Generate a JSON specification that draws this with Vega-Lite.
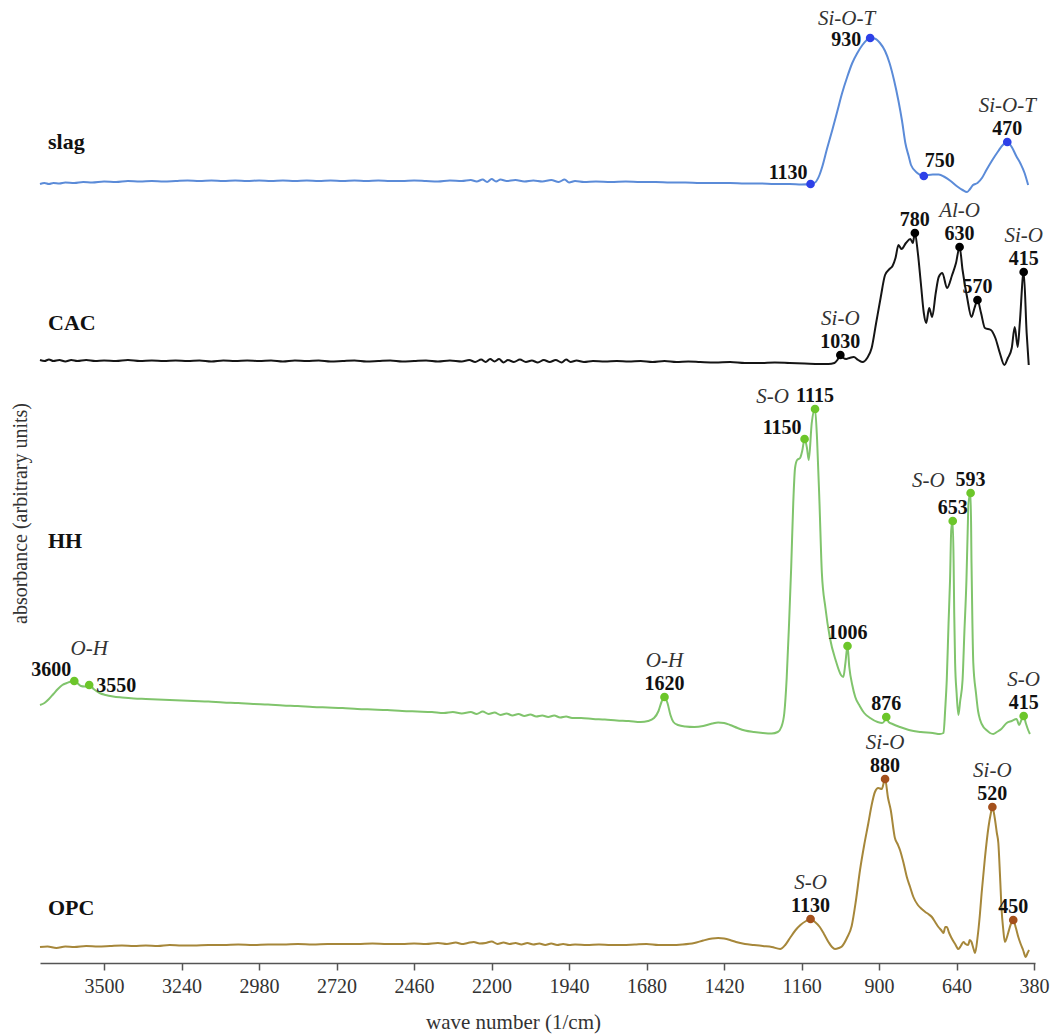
{
  "$schema": "https://vega.github.io/schema/vega-lite/v6.json",
  "width": 995,
  "height": 963,
  "autosize": "none",
  "padding": {"left": 40, "top": 0, "right": 19, "bottom": 72},
  "background": "white",
  "config": {"view": {"stroke": null}, "font": "Liberation Serif"},
  "datasets": {
    "slag": [
      {"wn":3715,"abs":7.79},{"wn":3700,"abs":7.80},{"wn":3685,"abs":7.79},{"wn":3670,"abs":7.80},{"wn":3650,"abs":7.795},{"wn":3630,"abs":7.805},{"wn":3600,"abs":7.80},{"wn":3570,"abs":7.81},{"wn":3540,"abs":7.805},{"wn":3500,"abs":7.815},{"wn":3460,"abs":7.81},{"wn":3420,"abs":7.82},{"wn":3380,"abs":7.815},{"wn":3340,"abs":7.82},{"wn":3300,"abs":7.815},{"wn":3260,"abs":7.82},{"wn":3220,"abs":7.825},{"wn":3180,"abs":7.82},{"wn":3140,"abs":7.825},{"wn":3100,"abs":7.82},{"wn":3060,"abs":7.825},{"wn":3020,"abs":7.82},{"wn":2980,"abs":7.825},{"wn":2940,"abs":7.82},{"wn":2900,"abs":7.825},{"wn":2860,"abs":7.82},{"wn":2820,"abs":7.825},{"wn":2780,"abs":7.82},{"wn":2740,"abs":7.825},{"wn":2700,"abs":7.82},{"wn":2660,"abs":7.825},{"wn":2620,"abs":7.82},{"wn":2580,"abs":7.825},{"wn":2540,"abs":7.82},{"wn":2500,"abs":7.82},{"wn":2460,"abs":7.825},{"wn":2420,"abs":7.82},{"wn":2380,"abs":7.815},{"wn":2340,"abs":7.825},{"wn":2300,"abs":7.82},{"wn":2270,"abs":7.83},{"wn":2250,"abs":7.815},{"wn":2230,"abs":7.835},{"wn":2215,"abs":7.81},{"wn":2200,"abs":7.84},{"wn":2185,"abs":7.815},{"wn":2170,"abs":7.835},{"wn":2150,"abs":7.82},{"wn":2120,"abs":7.83},{"wn":2090,"abs":7.815},{"wn":2060,"abs":7.825},{"wn":2030,"abs":7.815},{"wn":2000,"abs":7.83},{"wn":1975,"abs":7.81},{"wn":1955,"abs":7.835},{"wn":1940,"abs":7.805},{"wn":1920,"abs":7.82},{"wn":1890,"abs":7.81},{"wn":1850,"abs":7.815},{"wn":1800,"abs":7.81},{"wn":1750,"abs":7.815},{"wn":1700,"abs":7.81},{"wn":1650,"abs":7.81},{"wn":1600,"abs":7.805},{"wn":1550,"abs":7.805},{"wn":1500,"abs":7.80},{"wn":1450,"abs":7.80},{"wn":1400,"abs":7.80},{"wn":1350,"abs":7.795},{"wn":1300,"abs":7.795},{"wn":1250,"abs":7.79},{"wn":1200,"abs":7.79},{"wn":1160,"abs":7.785},
      {"wn":1130,"abs":7.79},{"wn":1115,"abs":7.805},{"wn":1100,"abs":7.88},{"wn":1091,"abs":7.96},{"wn":1075,"abs":8.14},{"wn":1057,"abs":8.33},{"wn":1040,"abs":8.52},{"wn":1024,"abs":8.70},{"wn":1007,"abs":8.86},{"wn":990,"abs":9.00},{"wn":973,"abs":9.10},{"wn":956,"abs":9.18},{"wn":943,"abs":9.225},{"wn":930,"abs":9.25},{"wn":915,"abs":9.245},{"wn":897,"abs":9.20},{"wn":880,"abs":9.12},{"wn":865,"abs":9.00},{"wn":850,"abs":8.83},{"wn":835,"abs":8.62},{"wn":823,"abs":8.42},{"wn":812,"abs":8.20},{"wn":800,"abs":8.06},{"wn":793,"abs":7.98},{"wn":772,"abs":7.90},{"wn":750,"abs":7.87},{"wn":735,"abs":7.88},{"wn":720,"abs":7.885},{"wn":700,"abs":7.885},{"wn":680,"abs":7.86},{"wn":660,"abs":7.82},{"wn":640,"abs":7.77},{"wn":620,"abs":7.73},{"wn":605,"abs":7.71},{"wn":595,"abs":7.74},{"wn":585,"abs":7.78},{"wn":570,"abs":7.80},{"wn":555,"abs":7.85},{"wn":540,"abs":7.93},{"wn":520,"abs":8.03},{"wn":500,"abs":8.12},{"wn":485,"abs":8.18},{"wn":470,"abs":8.21},{"wn":455,"abs":8.16},{"wn":440,"abs":8.07},{"wn":425,"abs":7.99},{"wn":412,"abs":7.90},{"wn":400,"abs":7.78}
    ],
    "CAC": [
      {"wn":3715,"abs":6.03},{"wn":3700,"abs":6.02},{"wn":3685,"abs":6.035},{"wn":3670,"abs":6.02},{"wn":3650,"abs":6.03},{"wn":3630,"abs":6.015},{"wn":3610,"abs":6.03},{"wn":3590,"abs":6.02},{"wn":3560,"abs":6.03},{"wn":3530,"abs":6.02},{"wn":3500,"abs":6.025},{"wn":3460,"abs":6.02},{"wn":3420,"abs":6.03},{"wn":3380,"abs":6.02},{"wn":3340,"abs":6.025},{"wn":3300,"abs":6.02},{"wn":3260,"abs":6.025},{"wn":3220,"abs":6.02},{"wn":3180,"abs":6.025},{"wn":3140,"abs":6.015},{"wn":3100,"abs":6.025},{"wn":3060,"abs":6.02},{"wn":3020,"abs":6.025},{"wn":2980,"abs":6.02},{"wn":2940,"abs":6.025},{"wn":2900,"abs":6.015},{"wn":2860,"abs":6.025},{"wn":2820,"abs":6.02},{"wn":2780,"abs":6.025},{"wn":2740,"abs":6.015},{"wn":2700,"abs":6.02},{"wn":2660,"abs":6.025},{"wn":2620,"abs":6.015},{"wn":2580,"abs":6.02},{"wn":2540,"abs":6.025},{"wn":2500,"abs":6.015},{"wn":2460,"abs":6.02},{"wn":2420,"abs":6.025},{"wn":2380,"abs":6.015},{"wn":2340,"abs":6.025},{"wn":2300,"abs":6.015},{"wn":2275,"abs":6.03},{"wn":2255,"abs":6.01},{"wn":2235,"abs":6.035},{"wn":2220,"abs":6.01},{"wn":2205,"abs":6.04},{"wn":2190,"abs":6.015},{"wn":2175,"abs":6.04},{"wn":2160,"abs":6.005},{"wn":2145,"abs":6.03},{"wn":2125,"abs":6.01},{"wn":2105,"abs":6.035},{"wn":2085,"abs":6.01},{"wn":2065,"abs":6.025},{"wn":2045,"abs":6.005},{"wn":2025,"abs":6.03},{"wn":2005,"abs":6.01},{"wn":1985,"abs":6.03},{"wn":1965,"abs":6.005},{"wn":1950,"abs":6.035},{"wn":1935,"abs":6.01},{"wn":1915,"abs":6.025},{"wn":1890,"abs":6.01},{"wn":1860,"abs":6.02},{"wn":1820,"abs":6.015},{"wn":1780,"abs":6.02},{"wn":1740,"abs":6.015},{"wn":1700,"abs":6.02},{"wn":1660,"abs":6.01},{"wn":1620,"abs":6.02},{"wn":1580,"abs":6.01},{"wn":1540,"abs":6.015},{"wn":1500,"abs":6.01},{"wn":1450,"abs":6.005},{"wn":1400,"abs":6.01},{"wn":1350,"abs":6.0},{"wn":1300,"abs":6.0},{"wn":1250,"abs":6.005},{"wn":1200,"abs":6.0},{"wn":1150,"abs":5.995},{"wn":1100,"abs":5.99},{"wn":1070,"abs":5.99},{"wn":1050,"abs":6.00},
      {"wn":1040,"abs":6.03},{"wn":1030,"abs":6.08},{"wn":1020,"abs":6.05},{"wn":1010,"abs":6.04},{"wn":1000,"abs":6.05},{"wn":985,"abs":6.06},{"wn":970,"abs":6.03},{"wn":955,"abs":6.01},{"wn":940,"abs":6.05},{"wn":925,"abs":6.15},{"wn":910,"abs":6.40},{"wn":895,"abs":6.65},{"wn":880,"abs":6.88},{"wn":865,"abs":6.94},{"wn":855,"abs":6.97},{"wn":845,"abs":7.05},{"wn":835,"abs":7.18},{"wn":825,"abs":7.14},{"wn":810,"abs":7.20},{"wn":795,"abs":7.24},{"wn":787,"abs":7.20},{"wn":780,"abs":7.30},{"wn":770,"abs":7.10},{"wn":760,"abs":6.80},{"wn":750,"abs":6.50},{"wn":742,"abs":6.40},{"wn":732,"abs":6.55},{"wn":722,"abs":6.46},{"wn":710,"abs":6.70},{"wn":700,"abs":6.86},{"wn":688,"abs":6.90},{"wn":672,"abs":6.75},{"wn":655,"abs":6.88},{"wn":642,"abs":7.00},{"wn":630,"abs":7.16},{"wn":620,"abs":6.93},{"wn":605,"abs":6.66},{"wn":590,"abs":6.46},{"wn":580,"abs":6.55},{"wn":570,"abs":6.63},{"wn":558,"abs":6.50},{"wn":545,"abs":6.35},{"wn":525,"abs":6.33},{"wn":510,"abs":6.25},{"wn":495,"abs":6.10},{"wn":480,"abs":5.98},{"wn":468,"abs":6.05},{"wn":455,"abs":6.15},{"wn":445,"abs":6.36},{"wn":435,"abs":6.16},{"wn":428,"abs":6.40},{"wn":415,"abs":6.91},{"wn":405,"abs":6.30},{"wn":398,"abs":5.98}
    ],
    "HH": [
      {"wn":3715,"abs":2.58},{"wn":3700,"abs":2.60},{"wn":3685,"abs":2.64},{"wn":3670,"abs":2.69},{"wn":3655,"abs":2.74},{"wn":3640,"abs":2.78},{"wn":3625,"abs":2.80},{"wn":3612,"abs":2.815},{"wn":3600,"abs":2.82},{"wn":3590,"abs":2.80},{"wn":3578,"abs":2.77},{"wn":3565,"abs":2.765},{"wn":3550,"abs":2.78},{"wn":3535,"abs":2.74},{"wn":3515,"abs":2.70},{"wn":3495,"abs":2.68},{"wn":3470,"abs":2.665},{"wn":3440,"abs":2.655},{"wn":3400,"abs":2.645},{"wn":3360,"abs":2.64},{"wn":3320,"abs":2.635},{"wn":3280,"abs":2.63},{"wn":3240,"abs":2.625},{"wn":3200,"abs":2.62},{"wn":3150,"abs":2.615},{"wn":3100,"abs":2.605},{"wn":3050,"abs":2.60},{"wn":3000,"abs":2.59},{"wn":2950,"abs":2.585},{"wn":2900,"abs":2.575},{"wn":2850,"abs":2.57},{"wn":2800,"abs":2.56},{"wn":2750,"abs":2.555},{"wn":2700,"abs":2.55},{"wn":2650,"abs":2.54},{"wn":2600,"abs":2.535},{"wn":2550,"abs":2.53},{"wn":2500,"abs":2.52},{"wn":2450,"abs":2.515},{"wn":2400,"abs":2.51},{"wn":2360,"abs":2.50},{"wn":2330,"abs":2.51},{"wn":2300,"abs":2.495},{"wn":2270,"abs":2.51},{"wn":2250,"abs":2.49},{"wn":2230,"abs":2.515},{"wn":2210,"abs":2.49},{"wn":2190,"abs":2.505},{"wn":2170,"abs":2.48},{"wn":2150,"abs":2.495},{"wn":2130,"abs":2.475},{"wn":2110,"abs":2.49},{"wn":2090,"abs":2.47},{"wn":2070,"abs":2.485},{"wn":2050,"abs":2.465},{"wn":2030,"abs":2.475},{"wn":2010,"abs":2.46},{"wn":1990,"abs":2.475},{"wn":1970,"abs":2.455},{"wn":1950,"abs":2.465},{"wn":1930,"abs":2.45},{"wn":1900,"abs":2.45},{"wn":1860,"abs":2.44},{"wn":1820,"abs":2.435},{"wn":1780,"abs":2.425},{"wn":1740,"abs":2.42},{"wn":1700,"abs":2.41},{"wn":1675,"abs":2.42},{"wn":1655,"abs":2.45},{"wn":1640,"abs":2.52},{"wn":1630,"abs":2.61},{"wn":1620,"abs":2.66},{"wn":1610,"abs":2.60},{"wn":1600,"abs":2.48},{"wn":1590,"abs":2.41},{"wn":1575,"abs":2.38},{"wn":1550,"abs":2.365},{"wn":1520,"abs":2.36},{"wn":1490,"abs":2.37},{"wn":1460,"abs":2.395},{"wn":1440,"abs":2.405},{"wn":1420,"abs":2.40},{"wn":1400,"abs":2.38},{"wn":1375,"abs":2.35},{"wn":1350,"abs":2.325},{"wn":1320,"abs":2.31},{"wn":1290,"abs":2.30},{"wn":1260,"abs":2.295},{"wn":1240,"abs":2.31},{"wn":1228,"abs":2.36},{"wn":1218,"abs":2.50},{"wn":1210,"abs":2.85},{"wn":1202,"abs":3.40},{"wn":1195,"abs":3.95},{"wn":1188,"abs":4.60},{"wn":1182,"abs":4.95},{"wn":1175,"abs":5.03},{"wn":1165,"abs":5.05},{"wn":1158,"abs":5.12},{"wn":1150,"abs":5.24},{"wn":1142,"abs":5.15},{"wn":1136,"abs":5.03},{"wn":1126,"abs":5.40},{"wn":1115,"abs":5.54},{"wn":1108,"abs":5.23},{"wn":1100,"abs":4.60},{"wn":1092,"abs":3.90},{"wn":1080,"abs":3.55},{"wn":1065,"abs":3.25},{"wn":1045,"abs":3.02},{"wn":1028,"abs":2.88},{"wn":1020,"abs":2.86},{"wn":1013,"abs":3.00},{"wn":1006,"abs":3.17},{"wn":1000,"abs":2.96},{"wn":990,"abs":2.78},{"wn":980,"abs":2.66},{"wn":965,"abs":2.57},{"wn":950,"abs":2.50},{"wn":930,"abs":2.45},{"wn":905,"abs":2.41},{"wn":890,"abs":2.40},{"wn":882,"abs":2.42},{"wn":876,"abs":2.46},{"wn":868,"abs":2.41},{"wn":855,"abs":2.39},{"wn":830,"abs":2.36},{"wn":800,"abs":2.33},{"wn":760,"abs":2.31},{"wn":720,"abs":2.30},{"wn":696,"abs":2.29},{"wn":684,"abs":2.30},{"wn":678,"abs":2.55},{"wn":673,"abs":2.83},{"wn":667,"abs":3.40},{"wn":662,"abs":3.83},{"wn":658,"abs":4.33},{"wn":653,"abs":4.42},{"wn":650,"abs":4.00},{"wn":648,"abs":3.50},{"wn":645,"abs":3.00},{"wn":640,"abs":2.70},{"wn":634,"abs":2.48},{"wn":628,"abs":2.62},{"wn":620,"abs":2.83},{"wn":614,"abs":3.30},{"wn":607,"abs":3.83},{"wn":603,"abs":4.30},{"wn":600,"abs":4.60},{"wn":593,"abs":4.70},{"wn":590,"abs":4.00},{"wn":587,"abs":3.40},{"wn":584,"abs":3.00},{"wn":575,"abs":2.70},{"wn":568,"abs":2.52},{"wn":561,"abs":2.43},{"wn":550,"abs":2.36},{"wn":540,"abs":2.33},{"wn":528,"abs":2.30},{"wn":517,"abs":2.29},{"wn":505,"abs":2.31},{"wn":490,"abs":2.34},{"wn":472,"abs":2.40},{"wn":455,"abs":2.42},{"wn":439,"abs":2.44},{"wn":430,"abs":2.38},{"wn":424,"abs":2.42},{"wn":415,"abs":2.47},{"wn":408,"abs":2.40},{"wn":400,"abs":2.33},{"wn":394,"abs":2.29}
    ],
    "OPC": [
      {"wn":3715,"abs":0.16},{"wn":3690,"abs":0.165},{"wn":3660,"abs":0.15},{"wn":3630,"abs":0.165},{"wn":3600,"abs":0.16},{"wn":3560,"abs":0.17},{"wn":3520,"abs":0.165},{"wn":3480,"abs":0.17},{"wn":3440,"abs":0.175},{"wn":3400,"abs":0.17},{"wn":3360,"abs":0.175},{"wn":3320,"abs":0.17},{"wn":3280,"abs":0.18},{"wn":3240,"abs":0.175},{"wn":3200,"abs":0.175},{"wn":3150,"abs":0.18},{"wn":3100,"abs":0.18},{"wn":3050,"abs":0.185},{"wn":3000,"abs":0.18},{"wn":2950,"abs":0.185},{"wn":2900,"abs":0.185},{"wn":2850,"abs":0.19},{"wn":2800,"abs":0.185},{"wn":2750,"abs":0.19},{"wn":2700,"abs":0.19},{"wn":2650,"abs":0.19},{"wn":2600,"abs":0.195},{"wn":2550,"abs":0.19},{"wn":2500,"abs":0.19},{"wn":2460,"abs":0.195},{"wn":2420,"abs":0.19},{"wn":2380,"abs":0.20},{"wn":2350,"abs":0.19},{"wn":2320,"abs":0.205},{"wn":2300,"abs":0.19},{"wn":2280,"abs":0.20},{"wn":2260,"abs":0.21},{"wn":2240,"abs":0.195},{"wn":2220,"abs":0.20},{"wn":2200,"abs":0.215},{"wn":2180,"abs":0.19},{"wn":2160,"abs":0.205},{"wn":2140,"abs":0.19},{"wn":2120,"abs":0.20},{"wn":2100,"abs":0.185},{"wn":2080,"abs":0.20},{"wn":2060,"abs":0.185},{"wn":2040,"abs":0.195},{"wn":2020,"abs":0.18},{"wn":2000,"abs":0.195},{"wn":1980,"abs":0.18},{"wn":1960,"abs":0.19},{"wn":1940,"abs":0.18},{"wn":1920,"abs":0.185},{"wn":1880,"abs":0.18},{"wn":1840,"abs":0.185},{"wn":1800,"abs":0.18},{"wn":1760,"abs":0.18},{"wn":1720,"abs":0.185},{"wn":1680,"abs":0.19},{"wn":1640,"abs":0.18},{"wn":1600,"abs":0.18},{"wn":1560,"abs":0.185},{"wn":1520,"abs":0.20},{"wn":1490,"abs":0.225},{"wn":1460,"abs":0.245},{"wn":1440,"abs":0.25},{"wn":1420,"abs":0.245},{"wn":1400,"abs":0.23},{"wn":1380,"abs":0.21},{"wn":1350,"abs":0.19},{"wn":1320,"abs":0.18},{"wn":1290,"abs":0.17},{"wn":1260,"abs":0.16},{"wn":1232,"abs":0.14},{"wn":1215,"abs":0.18},{"wn":1199,"abs":0.25},{"wn":1180,"abs":0.33},{"wn":1164,"abs":0.38},{"wn":1145,"abs":0.42},{"wn":1130,"abs":0.44},{"wn":1115,"abs":0.41},{"wn":1099,"abs":0.36},{"wn":1085,"abs":0.29},{"wn":1070,"abs":0.21},{"wn":1058,"abs":0.16},{"wn":1048,"abs":0.14},{"wn":1035,"abs":0.15},{"wn":1025,"abs":0.165},{"wn":1008,"abs":0.25},{"wn":992,"abs":0.37},{"wn":978,"abs":0.62},{"wn":964,"abs":0.93},{"wn":950,"abs":1.18},{"wn":936,"abs":1.40},{"wn":925,"abs":1.58},{"wn":914,"abs":1.71},{"wn":903,"abs":1.75},{"wn":891,"abs":1.74},{"wn":880,"abs":1.84},{"wn":870,"abs":1.65},{"wn":861,"abs":1.53},{"wn":847,"abs":1.25},{"wn":838,"abs":1.19},{"wn":830,"abs":1.13},{"wn":818,"abs":1.00},{"wn":807,"abs":0.86},{"wn":796,"abs":0.76},{"wn":785,"abs":0.66},{"wn":770,"abs":0.58},{"wn":757,"abs":0.54},{"wn":745,"abs":0.51},{"wn":735,"abs":0.49},{"wn":723,"abs":0.46},{"wn":712,"abs":0.41},{"wn":701,"abs":0.36},{"wn":692,"abs":0.33},{"wn":684,"abs":0.30},{"wn":678,"abs":0.36},{"wn":673,"abs":0.36},{"wn":665,"abs":0.30},{"wn":657,"abs":0.25},{"wn":645,"abs":0.19},{"wn":634,"abs":0.14},{"wn":626,"abs":0.17},{"wn":617,"abs":0.21},{"wn":610,"abs":0.19},{"wn":601,"abs":0.18},{"wn":596,"abs":0.23},{"wn":590,"abs":0.21},{"wn":584,"abs":0.15},{"wn":578,"abs":0.10},{"wn":570,"abs":0.25},{"wn":562,"abs":0.48},{"wn":556,"abs":0.70},{"wn":545,"abs":1.05},{"wn":533,"abs":1.36},{"wn":525,"abs":1.50},{"wn":520,"abs":1.56},{"wn":512,"abs":1.45},{"wn":505,"abs":1.30},{"wn":500,"abs":1.20},{"wn":494,"abs":0.85},{"wn":489,"abs":0.53},{"wn":484,"abs":0.35},{"wn":478,"abs":0.21},{"wn":472,"abs":0.25},{"wn":467,"abs":0.30},{"wn":458,"abs":0.39},{"wn":450,"abs":0.43},{"wn":441,"abs":0.35},{"wn":433,"abs":0.26},{"wn":425,"abs":0.19},{"wn":417,"abs":0.13},{"wn":408,"abs":0.06},{"wn":402,"abs":0.10},{"wn":397,"abs":0.13}
    ],
    "peaks": [
      {"sample":"slag","wn":1130,"abs":7.79,"side":"top-left"},
      {"sample":"slag","wn":930,"abs":9.25,"side":"left","group":"Si-O-T","groupSide":"top-left"},
      {"sample":"slag","wn":750,"abs":7.87,"side":"top-right"},
      {"sample":"slag","wn":470,"abs":8.21,"side":"top","group":"Si-O-T","groupSide":"top"},
      {"sample":"CAC","wn":1030,"abs":6.08,"side":"top","group":"Si-O","groupSide":"top"},
      {"sample":"CAC","wn":780,"abs":7.30,"side":"top"},
      {"sample":"CAC","wn":630,"abs":7.16,"side":"top","group":"Al-O","groupSide":"top"},
      {"sample":"CAC","wn":570,"abs":6.63,"side":"top"},
      {"sample":"CAC","wn":415,"abs":6.91,"side":"top","group":"Si-O","groupSide":"top"},
      {"sample":"HH","wn":3600,"abs":2.82,"side":"top-left"},
      {"sample":"HH","wn":3550,"abs":2.78,"side":"right","group":"O-H","groupSide":"top"},
      {"sample":"HH","wn":1620,"abs":2.66,"side":"top","group":"O-H","groupSide":"top"},
      {"sample":"HH","wn":1150,"abs":5.24,"side":"top-left"},
      {"sample":"HH","wn":1115,"abs":5.54,"side":"top","group":"S-O","groupSide":"left"},
      {"sample":"HH","wn":1006,"abs":3.17,"side":"top"},
      {"sample":"HH","wn":876,"abs":2.46,"side":"top"},
      {"sample":"HH","wn":653,"abs":4.42,"side":"top"},
      {"sample":"HH","wn":593,"abs":4.70,"side":"top","group":"S-O","groupSide":"left"},
      {"sample":"HH","wn":415,"abs":2.47,"side":"top","group":"S-O","groupSide":"top"},
      {"sample":"OPC","wn":1130,"abs":0.44,"side":"top","group":"S-O","groupSide":"top"},
      {"sample":"OPC","wn":880,"abs":1.84,"side":"top","group":"Si-O","groupSide":"top"},
      {"sample":"OPC","wn":520,"abs":1.56,"side":"top","group":"Si-O","groupSide":"top"},
      {"sample":"OPC","wn":450,"abs":0.43,"side":"top"}
    ]
  },
  "encoding": {
    "x": {
      "field": "wn",
      "type": "quantitative",
      "scale": {"domain": [377, 3715], "reverse": true, "nice": false, "zero": false},
      "axis": {
        "values": [3500, 3240, 2980, 2720, 2460, 2200, 1940, 1680, 1420, 1160, 900, 640, 380],
        "format": "d",
        "grid": false,
        "domainColor": "#555",
        "domainWidth": 1.5,
        "tickColor": "#555",
        "tickWidth": 1.5,
        "tickSize": 7,
        "labelFont": "Liberation Serif",
        "labelFontSize": 20,
        "labelColor": "#333",
        "labelPadding": 6,
        "labelFlush": false,
        "labelOverlap": false,
        "title": "wave number (1/cm)",
        "titleFont": "Liberation Serif",
        "titleFontSize": 21,
        "titleFontWeight": "normal",
        "titleColor": "#333",
        "titleAlign": "center",
        "titleBaseline": "alphabetic",
        "titleX": 473,
        "titleY": 65
      }
    },
    "y": {
      "field": "abs",
      "type": "quantitative",
      "scale": {"domain": [0, 9.63], "nice": false, "zero": false},
      "axis": {
        "title": "absorbance (arbitrary units)",
        "domain": false,
        "ticks": false,
        "labels": false,
        "grid": false,
        "titleFont": "Liberation Serif",
        "titleFontSize": 20,
        "titleFontWeight": "normal",
        "titleColor": "#333",
        "titleAngle": 270,
        "titleAlign": "center",
        "titleBaseline": "middle",
        "titleX": -20,
        "titleY": 513
      }
    }
  },
  "layer": [
    {"data": {"name": "slag"}, "mark": {"type": "line", "color": "#5b8bd8", "strokeWidth": 2, "interpolate": "monotone"}},
    {"data": {"name": "CAC"}, "mark": {"type": "line", "color": "#151515", "strokeWidth": 2, "interpolate": "monotone"}},
    {"data": {"name": "HH"}, "mark": {"type": "line", "color": "#80c46c", "strokeWidth": 2, "interpolate": "monotone"}},
    {"data": {"name": "OPC"}, "mark": {"type": "line", "color": "#a6873a", "strokeWidth": 2, "interpolate": "monotone"}},

    {"data": {"name": "slag"},
     "transform": [{"window": [{"op": "row_number", "as": "r"}], "sort": [{"field": "wn", "order": "descending"}]}, {"filter": "datum.r == 1"}],
     "mark": {"type": "text", "text": "slag", "font": "Liberation Serif", "fontWeight": "bold", "fontSize": 22, "color": "#111", "align": "left", "baseline": "alphabetic", "dx": 8, "dy": -35}},
    {"data": {"name": "CAC"},
     "transform": [{"window": [{"op": "row_number", "as": "r"}], "sort": [{"field": "wn", "order": "descending"}]}, {"filter": "datum.r == 1"}],
     "mark": {"type": "text", "text": "CAC", "font": "Liberation Serif", "fontWeight": "bold", "fontSize": 22, "color": "#111", "align": "left", "baseline": "alphabetic", "dx": 8, "dy": -30}},
    {"data": {"name": "HH"},
     "transform": [{"window": [{"op": "row_number", "as": "r"}], "sort": [{"field": "wn", "order": "descending"}]}, {"filter": "datum.r == 1"}],
     "mark": {"type": "text", "text": "HH", "font": "Liberation Serif", "fontWeight": "bold", "fontSize": 22, "color": "#111", "align": "left", "baseline": "alphabetic", "dx": 8, "dy": -157}},
    {"data": {"name": "OPC"},
     "transform": [{"window": [{"op": "row_number", "as": "r"}], "sort": [{"field": "wn", "order": "descending"}]}, {"filter": "datum.r == 1"}],
     "mark": {"type": "text", "text": "OPC", "font": "Liberation Serif", "fontWeight": "bold", "fontSize": 22, "color": "#111", "align": "left", "baseline": "alphabetic", "dx": 8, "dy": -32}},

    {"data": {"name": "peaks"},
     "mark": {"type": "point", "filled": true, "opacity": 1, "size": 75},
     "encoding": {"color": {"field": "sample", "type": "nominal", "legend": null,
       "scale": {"domain": ["slag", "CAC", "HH", "OPC"], "range": ["#2d40e8", "#000000", "#6cc62a", "#a4501c"]}}}},

    {"data": {"name": "peaks"}, "transform": [{"filter": "datum.side == 'top'"}],
     "mark": {"type": "text", "font": "Liberation Serif", "fontWeight": "bold", "fontSize": 20, "color": "#111", "align": "center", "baseline": "alphabetic", "dy": -7},
     "encoding": {"text": {"field": "wn", "type": "quantitative", "format": "d"}}},
    {"data": {"name": "peaks"}, "transform": [{"filter": "datum.side == 'left'"}],
     "mark": {"type": "text", "font": "Liberation Serif", "fontWeight": "bold", "fontSize": 20, "color": "#111", "align": "right", "baseline": "alphabetic", "dx": -9, "dy": 8},
     "encoding": {"text": {"field": "wn", "type": "quantitative", "format": "d"}}},
    {"data": {"name": "peaks"}, "transform": [{"filter": "datum.side == 'top-left'"}],
     "mark": {"type": "text", "font": "Liberation Serif", "fontWeight": "bold", "fontSize": 20, "color": "#111", "align": "right", "baseline": "alphabetic", "dx": -3, "dy": -5},
     "encoding": {"text": {"field": "wn", "type": "quantitative", "format": "d"}}},
    {"data": {"name": "peaks"}, "transform": [{"filter": "datum.side == 'top-right'"}],
     "mark": {"type": "text", "font": "Liberation Serif", "fontWeight": "bold", "fontSize": 20, "color": "#111", "align": "left", "baseline": "alphabetic", "dx": 1, "dy": -9},
     "encoding": {"text": {"field": "wn", "type": "quantitative", "format": "d"}}},
    {"data": {"name": "peaks"}, "transform": [{"filter": "datum.side == 'right'"}],
     "mark": {"type": "text", "font": "Liberation Serif", "fontWeight": "bold", "fontSize": 20, "color": "#111", "align": "left", "baseline": "alphabetic", "dx": 7, "dy": 7},
     "encoding": {"text": {"field": "wn", "type": "quantitative", "format": "d"}}},

    {"data": {"name": "peaks"}, "transform": [{"filter": "datum.groupSide == 'top'"}],
     "mark": {"type": "text", "font": "Liberation Serif", "fontStyle": "italic", "fontSize": 21, "color": "#333", "align": "center", "baseline": "alphabetic", "dy": -30},
     "encoding": {"text": {"field": "group", "type": "nominal"}}},
    {"data": {"name": "peaks"}, "transform": [{"filter": "datum.groupSide == 'top-left'"}],
     "mark": {"type": "text", "font": "Liberation Serif", "fontStyle": "italic", "fontSize": 21, "color": "#333", "align": "right", "baseline": "alphabetic", "dx": 5, "dy": -13},
     "encoding": {"text": {"field": "group", "type": "nominal"}}},
    {"data": {"name": "peaks"}, "transform": [{"filter": "datum.groupSide == 'left'"}],
     "mark": {"type": "text", "font": "Liberation Serif", "fontStyle": "italic", "fontSize": 21, "color": "#333", "align": "right", "baseline": "alphabetic", "dx": -26, "dy": -6},
     "encoding": {"text": {"field": "group", "type": "nominal"}}}
  ]
}
